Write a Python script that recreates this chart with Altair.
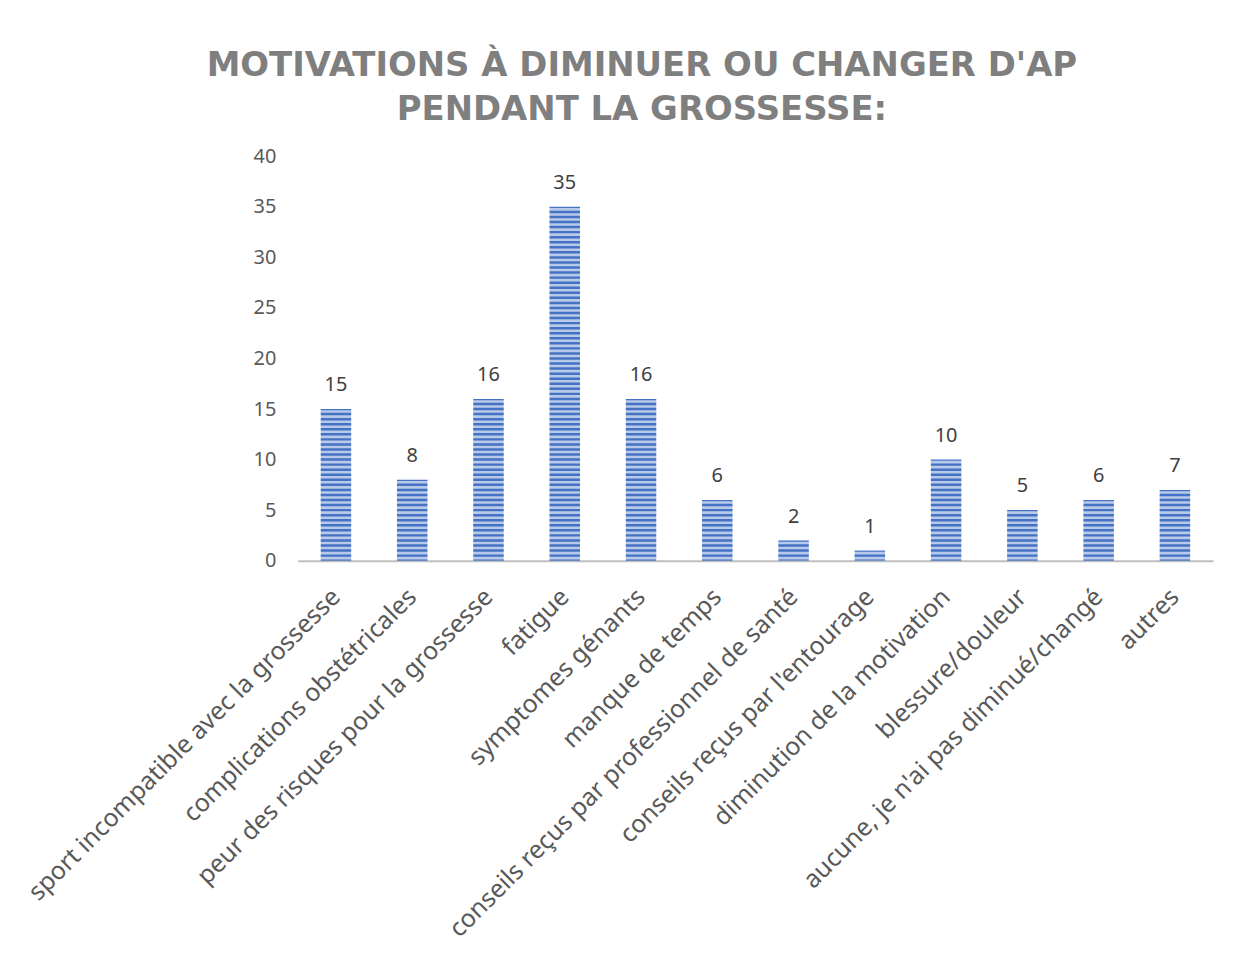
import altair as alt
import pandas as pd

categories = [
    "sport incompatible avec la grossesse",
    "complications obstétricales",
    "peur des risques pour la grossesse",
    "fatigue",
    "symptomes génants",
    "manque de temps",
    "conseils reçus par professionnel de santé",
    "conseils reçus par l'entourage",
    "diminution de la motivation",
    "blessure/douleur",
    "aucune, je n'ai pas diminué/changé",
    "autres",
]
values = [15, 8, 16, 35, 16, 6, 2, 1, 10, 5, 6, 7]

df = pd.DataFrame({"cat": categories, "val": values})

x = alt.X("cat:N", sort=None, title=None,
          scale=alt.Scale(paddingInner=0.6, paddingOuter=0.3),
          axis=alt.Axis(labelAngle=-45, labelAlign="right", labelBaseline="middle",
                        labelFont="Noto Sans", labelFontSize=25, labelColor="#595959",
                        labelPadding=32, ticks=False, domainColor="#bfbfbf",
                        domainWidth=2, labelLimit=700, labelOverlap=False))
y = alt.Y("val:Q", title=None,
          scale=alt.Scale(domain=[0, 40]),
          axis=alt.Axis(values=[0, 5, 10, 15, 20, 25, 30, 35, 40], grid=False,
                        domain=False, ticks=False, labelFont="Noto Sans", labelFontSize=20,
                        labelColor="#595959", labelPadding=22))

bars = alt.Chart(df).mark_bar(color="#4472c4").encode(x=x, y=y)

stripes = alt.Chart(alt.sequence(0.25, 40, 0.5, as_="s")).mark_rule(
    color="white", strokeWidth=2.6, opacity=0.62
).encode(y=alt.Y("s:Q"))

labels = alt.Chart(df).mark_text(
    dy=-14, baseline="bottom", font="Noto Sans", fontSize=20, color="#404040"
).encode(x=x, y=y, text="val:Q")

chart = alt.layer(bars, stripes, labels).properties(
    width=919, height=406,
    background="white",
    padding={"left": 15, "top": 39, "right": 10, "bottom": 5},
    title=alt.TitleParams(
        ["MOTIVATIONS À DIMINUER OU CHANGER D'AP", "PENDANT LA GROSSESSE:"],
        font="DejaVu Sans", fontSize=34, fontWeight="bold", color="#7f7f7f",
        anchor="middle", frame="bounds", offset=19, lineHeight=45, dx=23),
).configure_view(strokeWidth=0, stroke="transparent")

chart.save("out.html", embed_options={"renderer": "svg", "actions": False})
